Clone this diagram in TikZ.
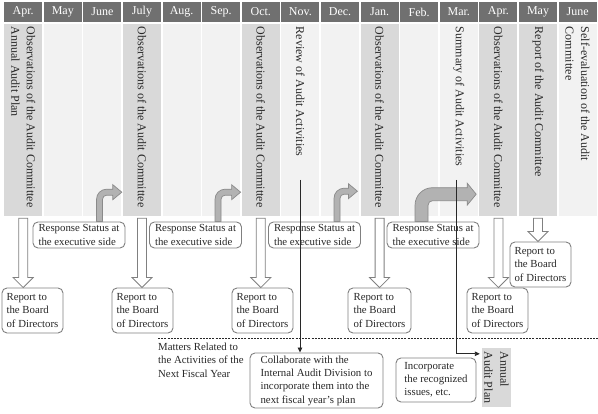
\documentclass[tikz,border=0pt]{standalone}
\usepackage{fontspec}
\setmainfont{Liberation Serif}
\usepackage{xcolor}
\usepackage{tikz}
\usetikzlibrary{arrows.meta,calc,positioning}

\definecolor{headgray}{RGB}{112,112,112}
\definecolor{hl}{RGB}{217,217,217}
\definecolor{lt}{RGB}{242,242,242}
\definecolor{boxedge}{RGB}{128,128,128}
\definecolor{arrowfill}{RGB}{178,178,178}
\definecolor{arrowedge}{RGB}{138,138,138}
\definecolor{inkgray}{RGB}{40,40,40}

\pgfdeclarelayer{back}
\pgfdeclarelayer{mid}
\pgfsetlayers{back,mid,main}

\tikzset{
    monthbox/.style={fill=headgray, text=white, minimum width=38pt, minimum height=20pt,
        inner sep=0pt, font=\fontsize{12}{14}\selectfont},
    colbox/.style={minimum width=38pt, minimum height=192pt, inner sep=0pt},
    vtext/.style={rotate=-90, anchor=west, align=left, inner sep=3pt, text=inkgray,
        font=\fontsize{12}{15.5}\selectfont},
    roundbox/.style={draw=boxedge, line width=0.9pt, rounded corners=5pt, fill=white,
        align=left, inner sep=0pt, text=inkgray, font=\fontsize{10.8}{13.3}\selectfont},
    statusbox/.style={roundbox, minimum width=92pt, minimum height=26pt},
    reportbox/.style={roundbox, minimum width=61pt, minimum height=45pt},
    flowline/.style={line width=0.9pt, inkgray, -{Triangle[length=5pt,width=4.5pt]}},
    hollowarrow/.style={draw=boxedge, fill=white, line width=0.8pt,
        to path={let \p1=(\tikztostart), \p2=(\tikztotarget) in
            (\x1-4.5,\y1) -- (\x1-4.5,\y2+10) -- (\x1-10,\y2+10) -- (\x1,\y2)
            -- (\x1+10,\y2+10) -- (\x1+4.5,\y2+10) -- (\x1+4.5,\y1) -- cycle}},
    bentarrow/.style n args={4}{draw=arrowedge, fill=arrowfill, line width=0.7pt,
        to path={let \p1=(\tikztostart), \p2=(\tikztotarget) in
            (\x1-#1,\y1) -- (\x1-#1,\y2-#4) arc[start angle=180, end angle=90, radius=#4+#1]
            -- (\x2-#3,\y2+#1) -- (\x2-#3,\y2+#2) -- (\x2,\y2) -- (\x2-#3,\y2-#2)
            -- (\x2-#3,\y2-#1) -- (\x1+#4,\y2-#1) arc[start angle=90, end angle=180, radius=#4-#1]
            -- (\x1+#1,\y1) -- cycle}},
}

\begin{document}
\begin{tikzpicture}[x=1pt, y=1pt]
    \useasboundingbox (0,0) rectangle (598,414);

    % months and columns
    \begin{pgfonlayer}{back}
        \fill[white] (0,0) rectangle (598,414);
        \foreach \mon/\shade [count=\i from 0] in {Apr./hl, May/lt, June/lt, July/hl, Aug./lt,
                Sep./lt, Oct./hl, Nov./lt, Dec./lt, Jan./hl, Feb./lt, Mar./lt, Apr./hl, May/hl, June/lt}{
            \node[monthbox] (m\i) at ({23.2+39.6*\i},402) {\mon};
            \node[colbox, fill=\shade] (c\i) at ({23.2+39.6*\i},294) {};
        }
    \end{pgfonlayer}

    \node[vtext] (t0) at (c0.north) {Observations of the Audit Committee\\Annual Audit Plan};
    \node[vtext] (t3) at (c3.north) {Observations of the Audit Committee};
    \node[vtext] (t6) at (c6.north) {Observations of the Audit Committee};
    \node[vtext] (t7) at (c7.north) {Review of Audit Activities};
    \node[vtext] (t9) at (c9.north) {Observations of the Audit Committee};
    \node[vtext] (t11) at (c11.north) {Summary of Audit Activities};
    \node[vtext] (t12) at (c12.north) {Observations of the Audit Committee};
    \node[vtext] (t13) at (c13.north) {Report of the Audit Committee};
    \node[vtext] (t14) at (c14.north) {Self-evaluation of the Audit\\Committee};

    % response status
    \node[statusbox] (rs1) at (79,179) {Response Status at\\the executive side};
    \node[statusbox] (rs2) at (195.5,179) {Response Status at\\the executive side};
    \node[statusbox] (rs3) at (314.5,179) {Response Status at\\the executive side};
    \node[statusbox] (rs4) at (433,179) {Response Status at\\the executive side};

    \begin{pgfonlayer}{mid}
        \draw[bentarrow={3}{7.5}{9}{7}] ($(rs1.north west)+(67,0)$) to ($(c3.south west)+(-1,24)$);
        \draw[bentarrow={3}{7.5}{9}{7}] ($(rs2.north west)+(69,0)$) to ($(c6.south west)+(-1,24)$);
        \draw[bentarrow={3}{7.5}{9}{7}] ($(rs3.north west)+(69,0)$) to ($(c9.south west)+(-3,25)$);
        \draw[bentarrow={6.5}{11}{9}{11}] ($(rs4.north west)+(35,0)$) to ($(c12.south west)+(-3,22)$);
    \end{pgfonlayer}

    % reports to the board
    \node[reportbox] (rA) at (32.5,103.5) {Report to\\the Board\\of Directors};
    \node[reportbox] (rB) at (142.5,103.5) {Report to\\the Board\\of Directors};
    \node[reportbox] (rC) at (262.5,103.5) {Report to\\the Board\\of Directors};
    \node[reportbox, minimum width=63pt] (rD) at (379.5,103.5) {Report to\\the Board\\of Directors};
    \node[reportbox] (rE) at (497.5,103.5) {Report to\\the Board\\of Directors};
    \node[reportbox] (rF) at (540.5,149.5) {Report to\\the Board\\of Directors};

    \draw[hollowarrow] ($(c0.south)+(0,-2)$) to (rA.north);
    \draw[hollowarrow] ($(c3.south)+(0,-2)$) to (rB.north);
    \draw[hollowarrow] ($(c6.south)+(0,-2)$) to (rC.north);
    \draw[hollowarrow] ($(c9.south)+(0,-2)$) to (rD.north);
    \draw[hollowarrow] ($(c12.south)+(0,-2)$) to (rE.north);
    \draw[hollowarrow] ($(c13.south)+(0,-2)$) to (rF.north);

    % next fiscal year
    \coordinate (dashL) at (158,76);
    \coordinate (dashR) at (598,76);
    \draw[dash pattern=on 2pt off 1.2pt, line width=0.9pt, inkgray] (dashL) -- (dashR);

    \node[anchor=north west, align=left, inner sep=0pt, text=inkgray,
        font=\fontsize{10.8}{13.3}\selectfont] (next) at (158,71)
        {Matters Related to\\the Activities of the\\Next Fiscal Year};
    \node[roundbox, minimum width=133pt, minimum height=55pt] (collab) at (316.5,33.5)
        {Collaborate with the\\Internal Audit Division to\\incorporate them into the\\next fiscal year's plan};
    \node[roundbox, minimum width=80pt, minimum height=44pt] (issues) at (436,34)
        {Incorporate\\the recognized\\issues, etc.};
    \node[rotate=-90, fill=hl, minimum width=59pt, minimum height=29pt, align=left,
        inner sep=0pt, text=inkgray, font=\fontsize{12}{16}\selectfont] (plan) at (496.5,36.5)
        {Annual\\Audit Plan};

    \coordinate (nov) at (300,234);
    \coordinate (mar) at (456,234);
    \draw[flowline] (nov) -- (nov |- collab.north);
    \draw[flowline, shorten >=2pt] (mar) |- ($(plan.south west)+(0,-6)$);

\end{tikzpicture}
\end{document}
